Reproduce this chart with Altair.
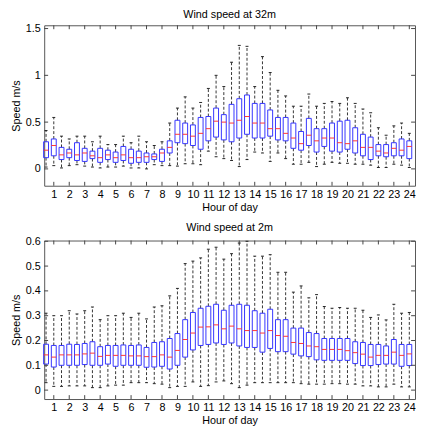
import altair as alt
import pandas as pd

hours = list(range(1, 25))
positions = [i * 0.5 for i in range(1, 49)]

# Wind speed at 32 m (per half-hour box)
whi_32 = [0.41, 0.55, 0.35, 0.32, 0.35, 0.35, 0.29, 0.35, 0.26, 0.26, 0.35, 0.28,
          0.35, 0.29, 0.25, 0.29, 0.49, 0.65, 0.77, 0.65, 0.71, 0.86, 1.00, 0.88,
          1.14, 1.32, 1.31, 0.88, 1.20, 1.03, 0.84, 0.78, 0.67, 0.67, 0.80, 0.67,
          0.70, 0.72, 0.70, 0.76, 0.70, 0.64, 0.60, 0.44, 0.36, 0.46, 0.49, 0.38]
q3_32 = [0.29, 0.32, 0.23, 0.21, 0.28, 0.22, 0.19, 0.22, 0.20, 0.18, 0.24, 0.21,
         0.19, 0.17, 0.16, 0.21, 0.30, 0.52, 0.49, 0.47, 0.55, 0.56, 0.65, 0.58,
         0.69, 0.75, 0.79, 0.70, 0.70, 0.63, 0.55, 0.55, 0.49, 0.40, 0.54, 0.43,
         0.43, 0.49, 0.51, 0.52, 0.44, 0.37, 0.34, 0.26, 0.26, 0.28, 0.32, 0.30]
med_32 = [0.20, 0.25, 0.15, 0.17, 0.15, 0.17, 0.14, 0.12, 0.15, 0.12, 0.15, 0.12,
          0.12, 0.13, 0.13, 0.17, 0.23, 0.37, 0.37, 0.35, 0.38, 0.43, 0.51, 0.50,
          0.49, 0.52, 0.56, 0.49, 0.49, 0.43, 0.43, 0.38, 0.33, 0.27, 0.36, 0.30,
          0.33, 0.33, 0.28, 0.27, 0.30, 0.23, 0.23, 0.19, 0.17, 0.22, 0.20, 0.24]
q1_32 = [0.12, 0.14, 0.10, 0.12, 0.09, 0.08, 0.11, 0.07, 0.10, 0.07, 0.09, 0.06,
         0.07, 0.07, 0.10, 0.08, 0.17, 0.28, 0.27, 0.25, 0.21, 0.30, 0.34, 0.31,
         0.29, 0.33, 0.37, 0.33, 0.33, 0.35, 0.31, 0.30, 0.22, 0.20, 0.25, 0.18,
         0.24, 0.19, 0.18, 0.21, 0.17, 0.14, 0.10, 0.14, 0.13, 0.14, 0.14, 0.11]
wlo_32 = [0.02, 0.035, 0.01, 0.035, 0.045, 0.03, 0.02, 0.01, 0.02, 0.02, 0.03, 0.01,
          0.01, 0.0, 0.045, 0.035, 0.035, 0.03, 0.055, 0.055, 0.045, 0.19, 0.13, 0.11,
          0.09, 0.025, 0.10, 0.18, 0.17, 0.08, 0.17, 0.11, 0.05, 0.05, 0.07, 0.025,
          0.05, 0.07, 0.06, 0.06, 0.05, 0.05, 0.04, 0.015, 0.015, 0.05, 0.04, 0.015]

# Wind speed at 2 m
whi_2 = [0.31, 0.30, 0.30, 0.32, 0.307, 0.32, 0.335, 0.284, 0.30, 0.30, 0.31, 0.293,
         0.31, 0.287, 0.335, 0.34, 0.38, 0.41, 0.51, 0.52, 0.533, 0.568, 0.576, 0.528,
         0.55, 0.593, 0.60, 0.54, 0.54, 0.546, 0.475, 0.475, 0.395, 0.42, 0.372, 0.385,
         0.337, 0.33, 0.333, 0.33, 0.33, 0.322, 0.293, 0.303, 0.283, 0.346, 0.31, 0.313]
q3_2 = [0.185, 0.18, 0.18, 0.185, 0.184, 0.188, 0.195, 0.175, 0.18, 0.18, 0.182, 0.18,
        0.182, 0.172, 0.192, 0.195, 0.208, 0.228, 0.284, 0.313, 0.33, 0.338, 0.346, 0.322,
        0.342, 0.346, 0.342, 0.32, 0.31, 0.326, 0.284, 0.284, 0.25, 0.25, 0.232, 0.228,
        0.208, 0.208, 0.208, 0.208, 0.195, 0.192, 0.184, 0.184, 0.178, 0.204, 0.184, 0.184]
med_2 = [0.142, 0.133, 0.142, 0.142, 0.142, 0.146, 0.149, 0.136, 0.14, 0.14, 0.14, 0.138,
         0.138, 0.135, 0.135, 0.142, 0.133, 0.16, 0.204, 0.23, 0.254, 0.255, 0.263, 0.247,
         0.258, 0.247, 0.24, 0.24, 0.23, 0.24, 0.22, 0.217, 0.192, 0.188, 0.178, 0.175,
         0.164, 0.164, 0.164, 0.159, 0.151, 0.145, 0.133, 0.14, 0.14, 0.153, 0.14, 0.146]
q1_2 = [0.105, 0.093, 0.10, 0.10, 0.10, 0.103, 0.10, 0.10, 0.105, 0.096, 0.10, 0.10,
        0.10, 0.092, 0.093, 0.096, 0.085, 0.10, 0.133, 0.162, 0.18, 0.184, 0.19, 0.184,
        0.19, 0.178, 0.172, 0.172, 0.153, 0.168, 0.155, 0.155, 0.145, 0.138, 0.135, 0.122,
        0.12, 0.12, 0.12, 0.12, 0.107, 0.099, 0.099, 0.103, 0.105, 0.105, 0.096, 0.099]
wlo_2 = [0.03, 0.015, 0.015, 0.017, 0.017, 0.017, 0.01, 0.01, 0.017, 0.02, 0.02, 0.03,
         0.03, 0.03, 0.026, 0.024, 0.01, 0.015, 0.015, 0.033, 0.015, 0.018, 0.033, 0.037,
         0.026, 0.01, 0.02, 0.03, 0.03, 0.03, 0.03, 0.03, 0.03, 0.026, 0.024, 0.024,
         0.024, 0.026, 0.026, 0.024, 0.024, 0.017, 0.017, 0.013, 0.013, 0.024, 0.013, 0.013]

yticks_32 = [0, 0.5, 1, 1.5]
yticks_2 = [0, 0.1, 0.2, 0.3, 0.4, 0.5, 0.6]

FONT = "Liberation Sans"
W = 379
X_DOMAIN = [0.38, 24.37]


def panel(title, whi, q3, med, q1, wlo, ydom, yticks, height):
    df = pd.DataFrame({"pos": positions, "whi": whi, "q3": q3, "med": med,
                       "q1": q1, "wlo": wlo})
    xs = alt.Scale(domain=X_DOMAIN, nice=False, zero=False)
    ys = alt.Scale(domain=ydom, nice=False, zero=False)
    xax = alt.Axis(values=hours, title="Hour of day", format="d",
                   labelOverlap=False, labelFlush=False, labelSeparation=0)
    yax = alt.Axis(values=yticks, title="Speed m/s", format="~g",
                   labelOverlap=False, labelFlush=False, labelSeparation=0)

    def X(f):
        return alt.X(f, scale=xs, axis=xax)

    def Y(f):
        return alt.Y(f, scale=ys, axis=yax)

    base = alt.Chart(df)
    dash = [3, 2]
    up = base.mark_rule(color="#333", strokeDash=dash, strokeWidth=1).encode(
        x=X("pos:Q"), y=Y("q3:Q"), y2="whi:Q")
    lo = base.mark_rule(color="#333", strokeDash=dash, strokeWidth=1).encode(
        x=X("pos:Q"), y=Y("q1:Q"), y2="wlo:Q")
    cap_hi = base.mark_rule(color="#222", xOffset=-1.5, x2Offset=1.5).encode(
        x=X("pos:Q"), x2="pos:Q", y=Y("whi:Q"))
    cap_lo = base.mark_rule(color="#222", xOffset=-1.5, x2Offset=1.5).encode(
        x=X("pos:Q"), x2="pos:Q", y=Y("wlo:Q"))
    box = base.mark_rect(fill="white", fillOpacity=0, stroke="#3333ff",
                         strokeWidth=1, xOffset=-2.5, x2Offset=2.5).encode(
        x=X("pos:Q"), x2="pos:Q", y=Y("q1:Q"), y2="q3:Q")
    medl = base.mark_rule(color="#ff3333", strokeWidth=1, xOffset=-2.5,
                          x2Offset=2.5).encode(x=X("pos:Q"), x2="pos:Q", y=Y("med:Q"))
    # inward ticks (MATLAB style)
    hdf = pd.DataFrame({"h": hours})
    ydf = pd.DataFrame({"v": yticks})
    tb = alt.Chart(hdf).mark_rule(color="#444").encode(
        x=X("h:Q"), y=alt.value(height), y2=alt.value(height - 4))
    tt = alt.Chart(hdf).mark_rule(color="#444").encode(
        x=X("h:Q"), y=alt.value(0), y2=alt.value(4))
    tl = alt.Chart(ydf).mark_rule(color="#444").encode(
        y=Y("v:Q"), x=alt.value(0), x2=alt.value(4))
    tr = alt.Chart(ydf).mark_rule(color="#444").encode(
        y=Y("v:Q"), x=alt.value(W), x2=alt.value(W - 4))
    return alt.layer(up, lo, cap_hi, cap_lo, box, medl, tb, tt, tl, tr).properties(
        width=W, height=height,
        title=alt.TitleParams(title, fontSize=11, font=FONT, fontWeight="normal",
                              anchor="middle", offset=3, color="#000"))


top = panel("Wind speed at 32m", whi_32, q3_32, med_32, q1_32, wlo_32,
            [-0.18, 1.535], yticks_32, 164)
bot = panel("Wind speed at 2m", whi_2, q3_2, med_2, q1_2, wlo_2,
            [-0.036, 0.603], yticks_2, 162)

chart = alt.vconcat(top, bot, spacing=8).properties(
    padding={"left": 2, "top": -5, "right": 0, "bottom": 0}
).configure_view(stroke="#555", strokeWidth=1).configure_axis(
    domain=False, ticks=False, grid=False, labelOverlap=False, labelFlush=False,
    labelFontSize=11, labelFont=FONT, titleFont=FONT, titleFontSize=11,
    titleFontWeight="normal", labelColor="#000", titleColor="#000"
).configure_axisX(labelPadding=3, titlePadding=2).configure_axisY(
    labelPadding=4, titlePadding=4)

chart.save("out.html", embed_options={"renderer": "svg", "actions": False})
